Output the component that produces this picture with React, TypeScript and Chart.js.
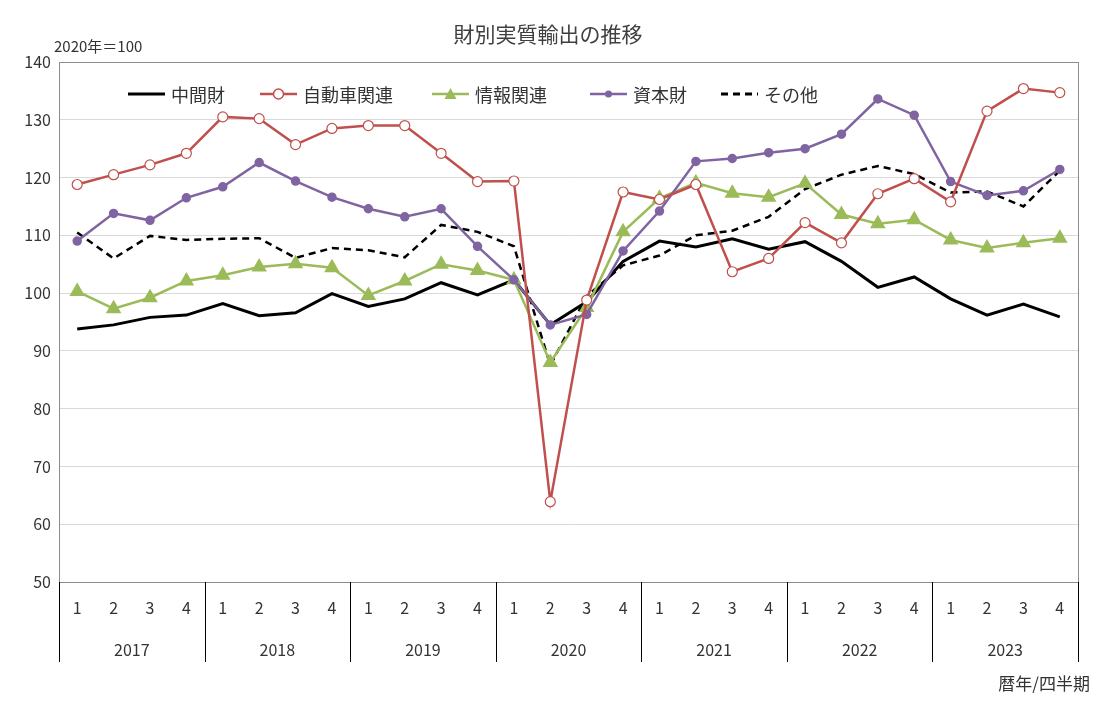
import React, { useEffect, useRef } from "react";
import { Chart, registerables } from "chart.js";
Chart.register(...registerables);

const years = ["2017", "2018", "2019", "2020", "2021", "2022", "2023"];
const quarters = ["1", "2", "3", "4"];
const labels = years.flatMap((y) => quarters.map((q) => `${y}-${q}`));

const intermediate = [93.8, 94.5, 95.8, 96.2, 98.2, 96.1, 96.6, 99.9, 97.7, 99.0, 101.8, 99.7, 102.3, 94.5, 98.5, 105.5, 109, 108, 109.4, 107.6, 108.9, 105.5, 101, 102.8, 99, 96.2, 98.1, 95.9];
const auto = [118.8, 120.5, 122.2, 124.2, 130.5, 130.2, 125.7, 128.5, 129, 129, 124.2, 119.3, 119.4, 63.9, 98.8, 117.5, 116.2, 118.8, 103.7, 106, 112.2, 108.7, 117.2, 119.8, 115.8, 131.5, 135.4, 134.7];
const info = [100.3, 97.3, 99.2, 102.1, 103.1, 104.5, 105.1, 104.4, 99.6, 102.1, 105, 103.9, 102.3, 88, 97.5, 110.6, 116.4, 119.1, 117.3, 116.6, 119, 113.6, 112, 112.7, 109.2, 107.8, 108.7, 109.5];
const capital = [109, 113.8, 112.6, 116.5, 118.4, 122.6, 119.4, 116.6, 114.6, 113.2, 114.6, 108.1, 102.3, 94.5, 96.3, 107.3, 114.2, 122.8, 123.3, 124.3, 125, 127.5, 133.6, 130.8, 119.3, 116.9, 117.7, 121.4];
const other = [110.5, 106, 109.9, 109.2, 109.4, 109.5, 106.1, 107.8, 107.4, 106.2, 111.8, 110.6, 108.1, 87.5, 99.5, 104.8, 106.5, 110, 110.8, 113.2, 118, 120.5, 122, 120.6, 117.4, 117.6, 115, 121.2];

const FONT = "'Noto Sans CJK JP', 'Noto Sans', sans-serif";

export default function App() {
  const ref = useRef<HTMLCanvasElement>(null);
  useEffect(() => {
    const overlay = {
      id: "overlay",
      afterDraw(chart: any) {
        const ctx = chart.ctx;
        const { left, right, top, bottom } = chart.chartArea;
        const xs = chart.scales.x;
        ctx.save();
        ctx.strokeStyle = "#8c8c8c";
        ctx.lineWidth = 1;
        ctx.strokeRect(left + 0.5, top + 0.5, right - left, bottom - top);
        ctx.strokeStyle = "#000";
        ctx.fillStyle = "#333";
        ctx.font = `16px ${FONT}`;
        ctx.textAlign = "center";
        ctx.textBaseline = "middle";
        const step = (right - left) / labels.length;
        for (let i = 0; i <= years.length; i++) {
          const x = Math.round(left + i * 4 * step) + 0.5;
          ctx.beginPath();
          ctx.moveTo(x, bottom);
          ctx.lineTo(x, bottom + 80);
          ctx.stroke();
        }
        years.forEach((y, i) => {
          const x = (xs.getPixelForValue(i * 4 + 1) + xs.getPixelForValue(i * 4 + 2)) / 2;
          ctx.fillText(y, x, bottom + 68);
        });
        ctx.font = `21px ${FONT}`;
        ctx.fillStyle = "#404040";
        ctx.fillText("財別実質輸出の推移", 548, 34);
        ctx.font = `15px ${FONT}`;
        ctx.textAlign = "left";
        ctx.fillStyle = "#333";
        ctx.fillText("2020年＝100", 54, 46);
        ctx.textAlign = "right";
        ctx.font = `17px ${FONT}`;
        ctx.fillText("暦年/四半期", 1090, 684);
        const items = [
          { x: 128, c: "#000", t: "中間財", dash: [], m: "none" },
          { x: 260, c: "#c0504d", t: "自動車関連", dash: [], m: "open" },
          { x: 432, c: "#9bbb59", t: "情報関連", dash: [], m: "tri" },
          { x: 590, c: "#8064a2", t: "資本財", dash: [], m: "dot" },
          { x: 721, c: "#000", t: "その他", dash: [7, 5], m: "none" },
        ];
        const ly = 94;
        ctx.font = `18px ${FONT}`;
        ctx.textAlign = "left";
        items.forEach((it) => {
          ctx.strokeStyle = it.c;
          ctx.lineWidth = it.c === "#000" ? 3 : 2.5;
          ctx.setLineDash(it.dash);
          ctx.beginPath();
          ctx.moveTo(it.x, ly);
          ctx.lineTo(it.x + 37, ly);
          ctx.stroke();
          ctx.setLineDash([]);
          const cx = it.x + 18.5;
          if (it.m === "open") {
            ctx.fillStyle = "#fff";
            ctx.lineWidth = 1.5;
            ctx.beginPath();
            ctx.arc(cx, ly, 5, 0, Math.PI * 2);
            ctx.fill();
            ctx.stroke();
          } else if (it.m === "tri") {
            ctx.fillStyle = it.c;
            ctx.beginPath();
            ctx.moveTo(cx, ly - 6);
            ctx.lineTo(cx + 6, ly + 5);
            ctx.lineTo(cx - 6, ly + 5);
            ctx.closePath();
            ctx.fill();
          } else if (it.m === "dot") {
            ctx.fillStyle = it.c;
            ctx.beginPath();
            ctx.arc(cx, ly, 3.5, 0, Math.PI * 2);
            ctx.fill();
          }
          ctx.fillStyle = "#333";
          ctx.fillText(it.t, it.x + 43, ly + 1);
        });
        ctx.restore();
      },
    };
    const chart = new Chart(ref.current!, {
      type: "line",
      data: {
        labels,
        datasets: [
          { label: "中間財", data: intermediate, borderColor: "#000", borderWidth: 3, pointRadius: 0, order: 5 },
          { label: "自動車関連", data: auto, borderColor: "#c0504d", borderWidth: 2.5, pointRadius: 5, pointBackgroundColor: "#fff", pointBorderColor: "#c0504d", pointBorderWidth: 1.2, order: 1 },
          { label: "情報関連", data: info, borderColor: "#9bbb59", borderWidth: 2.5, pointStyle: "triangle", pointRadius: 6.5, pointBackgroundColor: "#9bbb59", pointBorderColor: "#9bbb59", order: 3 },
          { label: "資本財", data: capital, borderColor: "#8064a2", borderWidth: 2.5, pointRadius: 3.5, pointBackgroundColor: "#8064a2", pointBorderColor: "#8064a2", order: 2 },
          { label: "その他", data: other, borderColor: "#000", borderWidth: 2.5, borderDash: [7, 5], pointRadius: 0, order: 4 },
        ] as any,
      },
      options: {
        animation: false,
        responsive: false,
        layout: { padding: { left: 0, right: 18, top: 62, bottom: 52 } },
        plugins: { legend: { display: false }, tooltip: { enabled: false } },
        scales: {
          x: {
            offset: true,
            grid: { display: false, offset: true },
            border: { display: true, color: "#000" },
            ticks: {
              color: "#333",
              font: { size: 16, family: FONT },
              padding: 8,
              maxRotation: 0,
              autoSkip: false,
              callback: (_v: any, i: number) => quarters[i % 4],
            },
            afterFit: (s: any) => { s.height = 80; },
          },
          y: {
            min: 50,
            max: 140,
            ticks: { stepSize: 10, color: "#333", font: { size: 16, family: FONT }, padding: 8 },
            grid: { color: "#d9d9d9", drawTicks: false },
            border: { display: false },
            afterFit: (s: any) => { s.width = 59; },
          },
        },
      } as any,
      plugins: [overlay],
    });
    return () => chart.destroy();
  }, []);
  return (
    <div style={{ position: "fixed", left: 0, top: 0, width: 1096, height: 714, background: "#fff" }}>
      <canvas ref={ref} width={1096} height={714} style={{ width: 1096, height: 714 }} />
    </div>
  );
}
